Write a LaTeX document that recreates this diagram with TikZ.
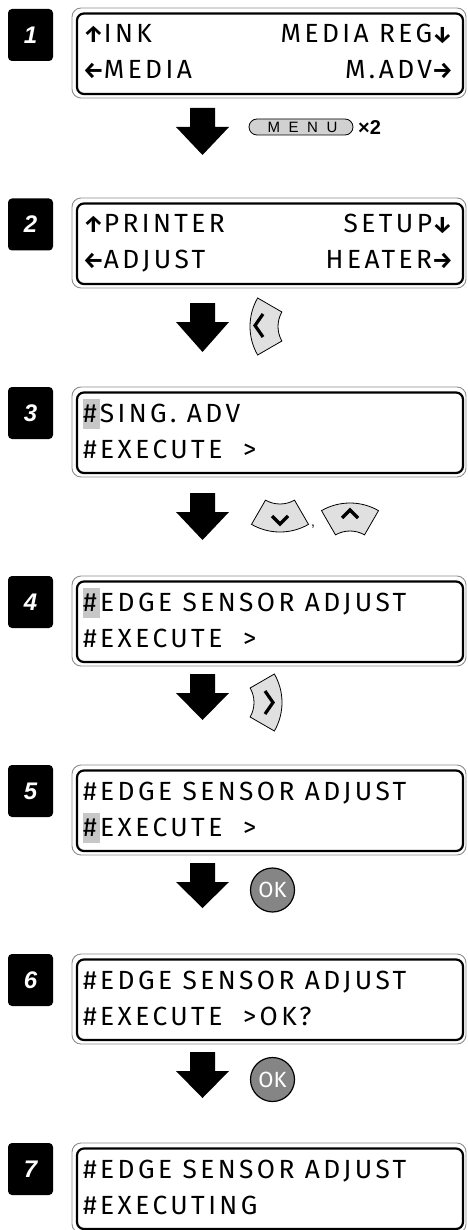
\documentclass[tikz,border=0pt]{standalone}
\usepackage{fontspec}
\setmainfont{Liberation Sans}
\newfontfamily\lcdfont{Fira Sans}[LetterSpace=13]
\newfontfamily\arrfont{Fira Sans}
\newfontfamily\okfont{Fira Sans}
\newfontfamily\keyfont{Liberation Sans}[LetterSpace=29]
\newcommand\ua{{\arrfont\bfseries\fontsize{23}{23}\selectfont ↑}}
\newcommand\da{{\arrfont\bfseries\fontsize{23}{23}\selectfont ↓}}
\newcommand\la{{\arrfont\bfseries\fontsize{23}{23}\selectfont ←}}
\newcommand\ra{{\arrfont\bfseries\fontsize{23}{23}\selectfont →}}
\newcommand\mylcd[1]{%
  \draw[outerframe] (72,#1) rectangle (466,#1+90);
  \draw[innerframe] (77,#1+5.5) rectangle (463,#1+86);
}
\newcommand\myblockarrow[2]{%
  \fill (190,#1) -- (215,#1) -- (215,#1+19) -- (229,#1+19) -- (202.5,#2)
        -- (176,#1+19) -- (190,#1+19) -- cycle;
}
\tikzset{
  badge/.style={fill=black, rounded corners=4pt, minimum width=45pt,
    minimum height=52pt, inner sep=0pt, text=white,
    font=\fontsize{24}{24}\selectfont\bfseries\itshape},
  lcdtxt/.style={inner sep=0pt, font=\lcdfont\fontsize{26.3}{26.3}\selectfont},
  outerframe/.style={draw=black!45, line width=0.9pt, rounded corners=9pt},
  innerframe/.style={draw=black, line width=2.2pt, rounded corners=7pt},
  roundkey/.style={draw=black, fill=black!12, line width=0.8pt},
  chev/.style={draw=black, line width=3.2pt},
  okkey/.style={circle, draw=black, line width=1.2pt, fill=black!48,
    minimum size=44pt, inner sep=0pt, text=white,
    font=\okfont\fontsize{22}{22}\selectfont},
  hl/.style={fill=black!22},
  menukey/.style={draw=black, fill=black!18, line width=0.8pt,
    rounded corners=8pt, minimum width=104pt, minimum height=16pt,
    inner sep=0pt, font=\keyfont\fontsize{15}{15}\selectfont},
}
\begin{document}
\begin{tikzpicture}[x=1pt, y=-1pt]
\useasboundingbox (0,0) rectangle (467,1230);

% ---------- step 1
\node[badge] (b1) at (30.5,35) {1};
\mylcd{8}
\node[lcdtxt, anchor=base west] (t1a) at (83,43) {\ua INK};
\node[lcdtxt, anchor=base east] (t1b) at (453,43) {MEDIA REG\da};
\node[lcdtxt, anchor=base west] (t1c) at (83,79) {\la MEDIA};
\node[lcdtxt, anchor=base east] (t1d) at (453,79) {M.ADV\ra};
\myblockarrow{108}{155}
\node[menukey] (menu) at (301,127) {\hspace{3pt}M E N U};
\node[anchor=west, inner sep=0pt, font=\bfseries\fontsize{20}{20}\selectfont] (x2) at (358,127.5) {×2};

% ---------- step 2
\node[badge] (b2) at (30.5,224.5) {2};
\mylcd{198}
\node[lcdtxt, anchor=base west] (t2a) at (83,233) {\ua PRINTER};
\node[lcdtxt, anchor=base east] (t2b) at (453,233) {SETUP\da};
\node[lcdtxt, anchor=base west] (t2c) at (83,269) {\la ADJUST};
\node[lcdtxt, anchor=base east] (t2d) at (453,269) {HEATER\ra};
\myblockarrow{303}{352}
\draw[roundkey] ([shift={(150:57pt)}]307,326.5) arc[start angle=150, end angle=210, radius=57pt]
  -- ([shift={(210:29pt)}]307,326.5) arc[start angle=210, end angle=150, radius=29pt] -- cycle;
\draw[chev] (263,314) -- (255,325.5) -- (263,337);

% ---------- step 3
\node[badge] (b3) at (30.5,413) {3};
\mylcd{387}
\fill[hl] (83,399) rectangle (100,429);
\node[lcdtxt, anchor=base west] (t3a) at (83,422) {\#SING. ADV};
\node[lcdtxt, anchor=base west] (t3b) at (83,458) {\#EXECUTE~ >};
\myblockarrow{493}{540}
\draw[roundkey] ([shift={(240:57pt)}]280,475) arc[start angle=240, end angle=300, radius=57pt]
  -- ([shift={(300:29pt)}]280,475) arc[start angle=300, end angle=240, radius=29pt] -- cycle;
\draw[chev] (272,516) -- (280,524) -- (288,516);
\node[anchor=base, inner sep=0pt, font=\fontsize{14}{14}\selectfont] (comma) at (313,526) {,};
\draw[roundkey] ([shift={(60:57pt)}]350,560) arc[start angle=60, end angle=120, radius=57pt]
  -- ([shift={(120:29pt)}]350,560) arc[start angle=120, end angle=60, radius=29pt] -- cycle;
\draw[chev] (342,518) -- (350,510) -- (358,518);

% ---------- step 4
\node[badge] (b4) at (30.5,602) {4};
\mylcd{576}
\fill[hl] (83,588) rectangle (100,618);
\node[lcdtxt, anchor=base west] (t4a) at (83,611) {\#EDGE SENSOR ADJUST};
\node[lcdtxt, anchor=base west] (t4b) at (83,647) {\#EXECUTE~ >};
\myblockarrow{674}{720}
\draw[roundkey] ([shift={(-30:57pt)}]225,702.5) arc[start angle=-30, end angle=30, radius=57pt]
  -- ([shift={(30:29pt)}]225,702.5) arc[start angle=30, end angle=-30, radius=29pt] -- cycle;
\draw[chev] (265,691) -- (273,702.5) -- (265,714);

% ---------- step 5
\node[badge] (b5) at (30.5,791) {5};
\mylcd{765}
\fill[hl] (83,813) rectangle (100,843);
\node[lcdtxt, anchor=base west] (t5a) at (83,800) {\#EDGE SENSOR ADJUST};
\node[lcdtxt, anchor=base west] (t5b) at (83,836) {\#EXECUTE~ >};
\myblockarrow{863}{908}
\node[okkey] (ok1) at (272.5,890) {OK};

% ---------- step 6
\node[badge] (b6) at (30.5,980) {6};
\mylcd{954}
\node[lcdtxt, anchor=base west] (t6a) at (83,989) {\#EDGE SENSOR ADJUST};
\node[lcdtxt, anchor=base west] (t6b) at (83,1025) {\#EXECUTE~ >OK?};
\myblockarrow{1052}{1098}
\node[okkey] (ok2) at (272.5,1079.5) {OK};

% ---------- step 7
\node[badge] (b7) at (30.5,1169) {7};
\mylcd{1143}
\node[lcdtxt, anchor=base west] (t7a) at (83,1178) {\#EDGE SENSOR ADJUST};
\node[lcdtxt, anchor=base west] (t7b) at (83,1214) {\#EXECUTING};
\end{tikzpicture}
\end{document}
